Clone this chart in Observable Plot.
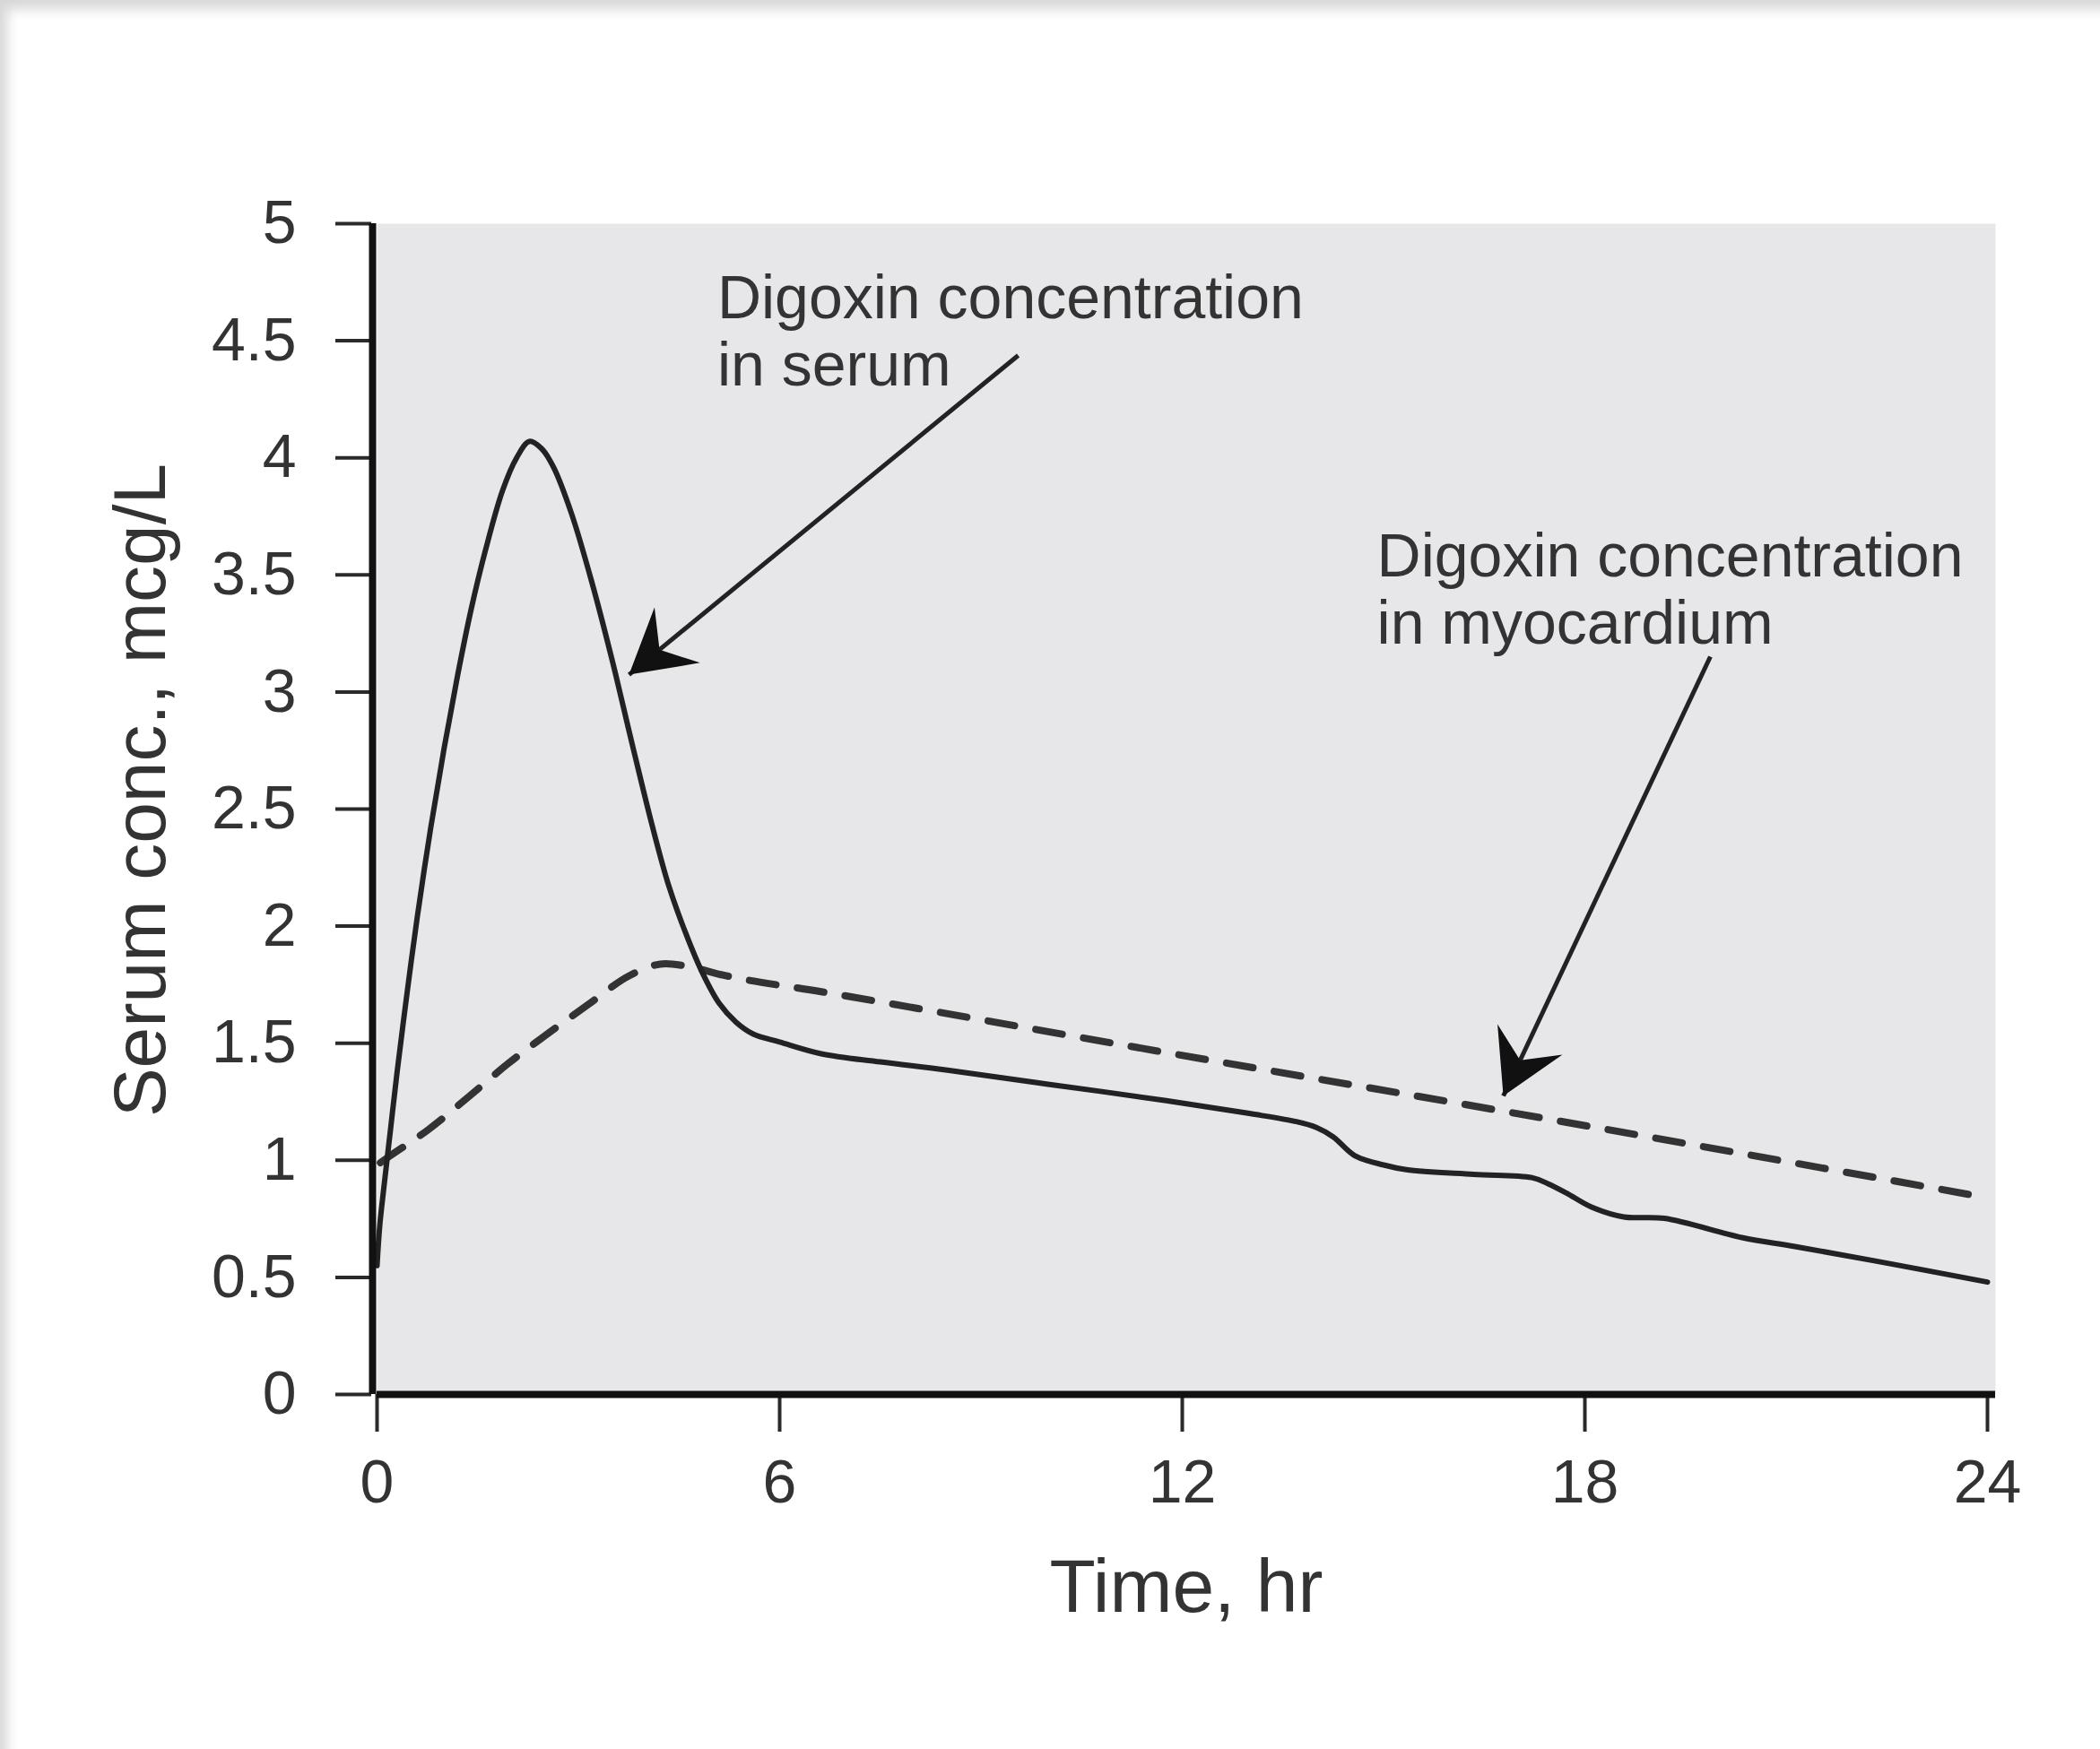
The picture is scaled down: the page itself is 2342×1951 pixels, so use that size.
<!DOCTYPE html>
<html>
<head>
<meta charset="utf-8">
<script src="https://cdn.jsdelivr.net/npm/d3@7"></script>
<script src="https://cdn.jsdelivr.net/npm/@observablehq/plot@0.6"></script>
<style>
  html, body { margin: 0; padding: 0; background: #fff; }
  #wrap { position: relative; width: 2342px; height: 1951px; overflow: hidden; }
  #shade { position: absolute; inset: 0; pointer-events: none;
           box-shadow: inset 14px 16px 14px -6px rgba(0,0,0,0.16); }
  svg { display: block; }
</style>
</head>
<body>
<div id="wrap"><div id="shade"></div></div>
<script>
// ---- Data ----
const serumTime = [0, 0.04, 0.1, 0.2, 0.3, 0.45, 0.6, 0.8, 1.0, 1.2, 1.4, 1.62, 1.87, 2.08, 2.27, 2.45, 2.63, 2.9, 3.2, 3.5, 3.8, 4.1, 4.35, 4.6, 4.85, 5.1, 5.35, 5.6, 6.0, 6.62, 7.5, 8.5, 10.0, 11.76, 13.0, 13.7, 14.0, 14.25, 14.57, 15.0, 15.34, 16.34, 17.21, 17.45, 17.72, 18.1, 18.58, 19.18, 20.34, 21.13, 22.33, 24.0];
const serumConc = [0.55, 0.72, 0.88, 1.13, 1.38, 1.72, 2.04, 2.42, 2.76, 3.07, 3.35, 3.61, 3.86, 4.0, 4.07, 4.04, 3.96, 3.76, 3.47, 3.14, 2.78, 2.43, 2.17, 1.97, 1.8, 1.67, 1.59, 1.54, 1.505, 1.455, 1.42, 1.385, 1.325, 1.255, 1.2, 1.165, 1.14, 1.1, 1.02, 0.98, 0.96, 0.94, 0.926, 0.9, 0.861, 0.8, 0.758, 0.752, 0.67, 0.632, 0.57, 0.48];

const myoTime = [0.05, 0.2, 0.76, 1.38, 1.94, 2.54, 3.17, 3.77, 4.3, 4.6, 5.17, 6.62, 11.76, 16.78, 24.0];
const myoConc = [0.99, 1.02, 1.13, 1.275, 1.41, 1.54, 1.67, 1.79, 1.84, 1.83, 1.79, 1.72, 1.46, 1.21, 0.84];

const xTicks = [0, 6, 12, 18, 24];
const xTickLabels = ["0", "6", "12", "18", "24"];
const yTicks = [0, 0.5, 1, 1.5, 2, 2.5, 3, 3.5, 4, 4.5, 5];
const yTickLabels = ["0", "0.5", "1", "1.5", "2", "2.5", "3", "3.5", "4", "4.5", "5"];

const xLabel = "Time, hr";
const yLabel = "Serum conc., mcg/L";

const noteText = ["Digoxin concentration\nin serum", "Digoxin concentration\nin myocardium"];
const noteX = [5.07, 14.9];
const noteY = [4.8, 3.695];

const arrowFromX = [9.555, 19.87];
const arrowFromY = [4.437, 3.151];
const arrowToX = [3.755, 16.785];
const arrowToY = [3.074, 1.275];

// ---- Layout ----
const W = 2342, H = 1951;
const mT = 249, mB = 396, mL = 420, mR = 117;
const xMax = 24.12, yMax = 5;
const kx = (W - mL - mR) / xMax;
const ky = (H - mT - mB) / yMax;

const serum = serumTime.map((t, i) => ({t, c: serumConc[i]}));
const myo = myoTime.map((t, i) => ({t, c: myoConc[i]}));
const notes = noteText.map((text, i) => ({text, x: noteX[i], y: noteY[i]}));
const arrows = arrowFromX.map((x1, i) => {
  const x2 = arrowToX[i], y1 = arrowFromY[i], y2 = arrowToY[i];
  const px = (x2 - x1) * kx, py = -(y2 - y1) * ky;
  return {x1, y1, x2, y2, angle: Math.atan2(px, -py) * 180 / Math.PI};
});

// filled, notched arrowhead with its tip at the origin, pointing up
const arrowHead = {
  draw(ctx, size) {
    const L = Math.sqrt(size / Math.PI);
    ctx.moveTo(0, 0);
    ctx.lineTo(0.5 * L, 0.87 * L);
    ctx.lineTo(0, 0.55 * L);
    ctx.lineTo(-0.5 * L, 0.87 * L);
    ctx.closePath();
  }
};

const font = "'Liberation Sans', Arial, Helvetica, sans-serif";
const ink = "#2a2a2a";

const chart = Plot.plot({
  width: W,
  height: H,
  marginTop: mT,
  marginBottom: mB,
  marginLeft: mL,
  marginRight: mR,
  style: {fontFamily: font, background: "transparent", color: ink},
  x: {domain: [0, xMax]},
  y: {domain: [0, yMax]},
  marks: [
    Plot.frame({fill: "#e7e7ea", stroke: null}),
    Plot.line(myo, {x: "t", y: "c", curve: "monotone-x", stroke: "#333", strokeWidth: 8, strokeDasharray: "30,24"}),
    Plot.line(serum, {x: "t", y: "c", curve: "catmull-rom", stroke: "#222", strokeWidth: 6}),
    Plot.link(arrows, {x1: "x1", y1: "y1", x2: "x2", y2: "y2", stroke: "#222", strokeWidth: 5}),
    Plot.dot(arrows, {x: "x2", y: "y2", symbol: arrowHead, r: 80, rotate: "angle", fill: "#111", stroke: null}),
    Plot.text(notes, {x: "x", y: "y", text: "text", textAnchor: "start", lineAnchor: "top", lineHeight: 1.1, fontSize: 68, fill: "#333"}),
    Plot.axisY({ticks: yTicks, tickFormat: (d, i) => yTickLabels[i], tickSize: 40, tickPadding: 44, dx: -6, fontSize: 68, strokeWidth: 4, stroke: ink, fill: "#333", label: null}),
    Plot.axisX({ticks: xTicks, tickFormat: (d, i) => xTickLabels[i], tickSize: 42, tickPadding: 30, fontSize: 68, strokeWidth: 4, stroke: ink, fill: "#333", label: null}),
    Plot.ruleY([0], {stroke: "#111", strokeWidth: 8}),
    Plot.ruleX([0], {stroke: "#111", strokeWidth: 8, dx: -5}),
    Plot.text([xLabel], {text: d => d, frameAnchor: "bottom", textAnchor: "middle", dy: 242, fontSize: 84, fill: "#333"}),
    Plot.text([yLabel], {text: d => d, frameAnchor: "left", textAnchor: "middle", rotate: -90, dx: -263, dy: -21, fontSize: 82, fill: "#333"})
  ]
});

document.getElementById("wrap").prepend(chart);
</script>
</body>
</html>
